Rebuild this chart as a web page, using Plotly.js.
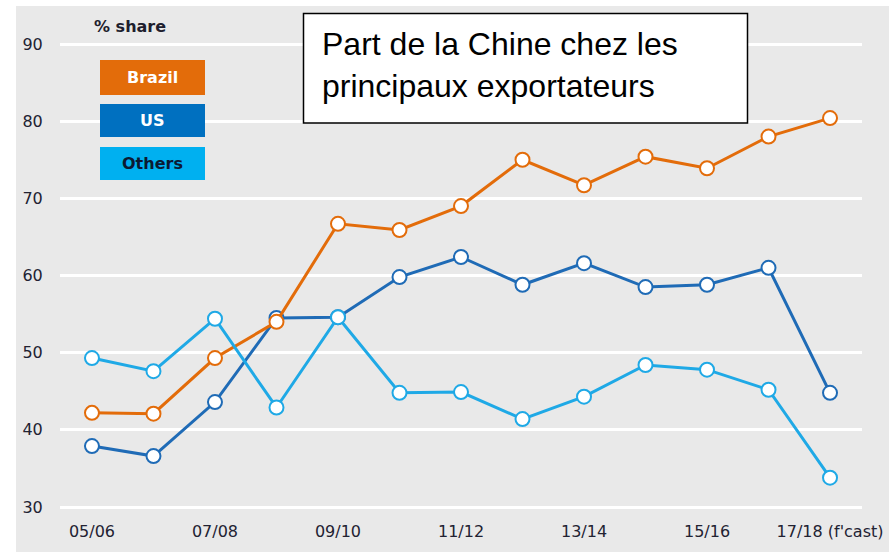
<!DOCTYPE html>
<html>
<head>
<meta charset="utf-8">
<script src="https://cdn.plot.ly/plotly-3.0.1.min.js"></script>
<style>html,body{margin:0;padding:0;background:#fff;}#chart{width:889px;height:552px;}</style>
</head>
<body>
<div id="chart"></div>
<script>
// ---- data ----
const categories = ['05/06','06/07','07/08','08/09','09/10','10/11','11/12','12/13','13/14','14/15','15/16','16/17','17/18'];
const brazil = [42.2, 42.1, 49.3, 54.0, 66.7, 65.9, 69.0, 75.0, 71.7, 75.4, 73.9, 78.0, 80.4];
const us     = [37.9, 36.6, 43.6, 54.5, 54.6, 59.8, 62.4, 58.8, 61.6, 58.5, 58.8, 61.0, 44.8];
const others = [49.3, 47.6, 54.4, 42.9, 54.6, 44.8, 44.9, 41.4, 44.3, 48.4, 47.8, 45.2, 33.8];
const tickCats   = ['05/06','07/08','09/10','11/12','13/14','15/16','17/18'];
const tickLabels = ['05/06','07/08','09/10','11/12','13/14','15/16',"17/18 (f'cast)"];
const yTicks = [30, 40, 50, 60, 70, 80, 90];

// ---- layout helpers (pixel -> paper) ----
const W = 889, H = 552;
const M = {l: 60, r: 27, t: 30, b: 40};
const PW = W - M.l - M.r, PH = H - M.t - M.b;
const px = x => (x - M.l) / PW;
const py = y => (H - M.b - y) / PH;

const cBrazil = '#E36C0A', cUS = '#1F6BB6', cOthers = '#1FA9E6';
const boxBrazil = '#E36C0A', boxUS = '#0070C0', boxOthers = '#00B0F0';

function series(name, vals, color) {
  return {
    type: 'scatter', mode: 'lines+markers', name: name,
    x: categories, y: vals,
    line: {color: color, width: 3},
    marker: {size: 14, color: '#ffffff', line: {color: color, width: 2}},
    hoverinfo: 'skip', cliponaxis: false
  };
}

const data = [
  series('US', us, cUS),
  series('Brazil', brazil, cBrazil),
  series('Others', others, cOthers)
];

const axisFont = {family: 'DejaVu Sans, sans-serif', size: 16, color: '#222232'};

const layout = {
  width: W, height: H,
  margin: M,
  paper_bgcolor: '#ffffff',
  plot_bgcolor: 'rgba(0,0,0,0)',
  showlegend: false,
  xaxis: {
    type: 'category', categoryorder: 'array', categoryarray: categories,
    range: [-0.52, 12.52],
    tickmode: 'array', tickvals: tickCats, ticktext: tickLabels,
    showgrid: false, zeroline: false, showline: false,
    ticks: 'outside', ticklen: 5, tickcolor: 'rgba(0,0,0,0)',
    tickfont: axisFont, fixedrange: true
  },
  yaxis: {
    range: [29.355, 91.814],
    tickmode: 'array', tickvals: yTicks,
    showgrid: true, gridcolor: '#ffffff', gridwidth: 3,
    zeroline: false, showline: false,
    ticks: 'outside', ticklen: 13, tickcolor: 'rgba(0,0,0,0)',
    tickfont: axisFont, fixedrange: true
  },
  shapes: [
    {type: 'rect', xref: 'paper', yref: 'paper', layer: 'below',
     x0: px(16), x1: px(889), y0: py(552), y1: py(6),
     fillcolor: '#E9E9E9', line: {width: 0}},
    {type: 'rect', xref: 'paper', yref: 'paper', layer: 'above',
     x0: px(100), x1: px(205), y0: py(95), y1: py(60),
     fillcolor: boxBrazil, line: {width: 0}},
    {type: 'rect', xref: 'paper', yref: 'paper', layer: 'above',
     x0: px(100), x1: px(205), y0: py(137), y1: py(104),
     fillcolor: boxUS, line: {width: 0}},
    {type: 'rect', xref: 'paper', yref: 'paper', layer: 'above',
     x0: px(100), x1: px(205), y0: py(180), y1: py(147),
     fillcolor: boxOthers, line: {width: 0}},
    {type: 'rect', xref: 'paper', yref: 'paper', layer: 'above',
     x0: px(303.5), x1: px(747.5), y0: py(123), y1: py(13.5),
     fillcolor: '#ffffff', line: {color: '#000000', width: 1.5}}
  ],
  annotations: [
    {xref: 'paper', yref: 'paper', x: px(92), y: py(26), xanchor: 'left', yanchor: 'middle',
     text: '<b>% share</b>', showarrow: false,
     font: {family: 'DejaVu Sans, sans-serif', size: 16, color: '#1e1e2e'}},
    {xref: 'paper', yref: 'paper', x: px(152.5), y: py(77.5), xanchor: 'center', yanchor: 'middle',
     text: '<b>Brazil</b>', showarrow: false,
     font: {family: 'DejaVu Sans, sans-serif', size: 16, color: '#ffffff'}},
    {xref: 'paper', yref: 'paper', x: px(152.5), y: py(120.5), xanchor: 'center', yanchor: 'middle',
     text: '<b>US</b>', showarrow: false,
     font: {family: 'DejaVu Sans, sans-serif', size: 16, color: '#ffffff'}},
    {xref: 'paper', yref: 'paper', x: px(152.5), y: py(163.5), xanchor: 'center', yanchor: 'middle',
     text: '<b>Others</b>', showarrow: false,
     font: {family: 'DejaVu Sans, sans-serif', size: 16, color: '#0b1a33'}},
    {xref: 'paper', yref: 'paper', x: px(320), y: py(24), xanchor: 'left', yanchor: 'top',
     align: 'left', showarrow: false,
     text: 'Part de la Chine chez les<br>principaux exportateurs',
     font: {family: 'Liberation Sans, Arial, sans-serif', size: 32, color: '#000000'}}
  ]
};

Plotly.newPlot('chart', data, layout, {staticPlot: true, displayModeBar: false});
</script>
</body>
</html>
